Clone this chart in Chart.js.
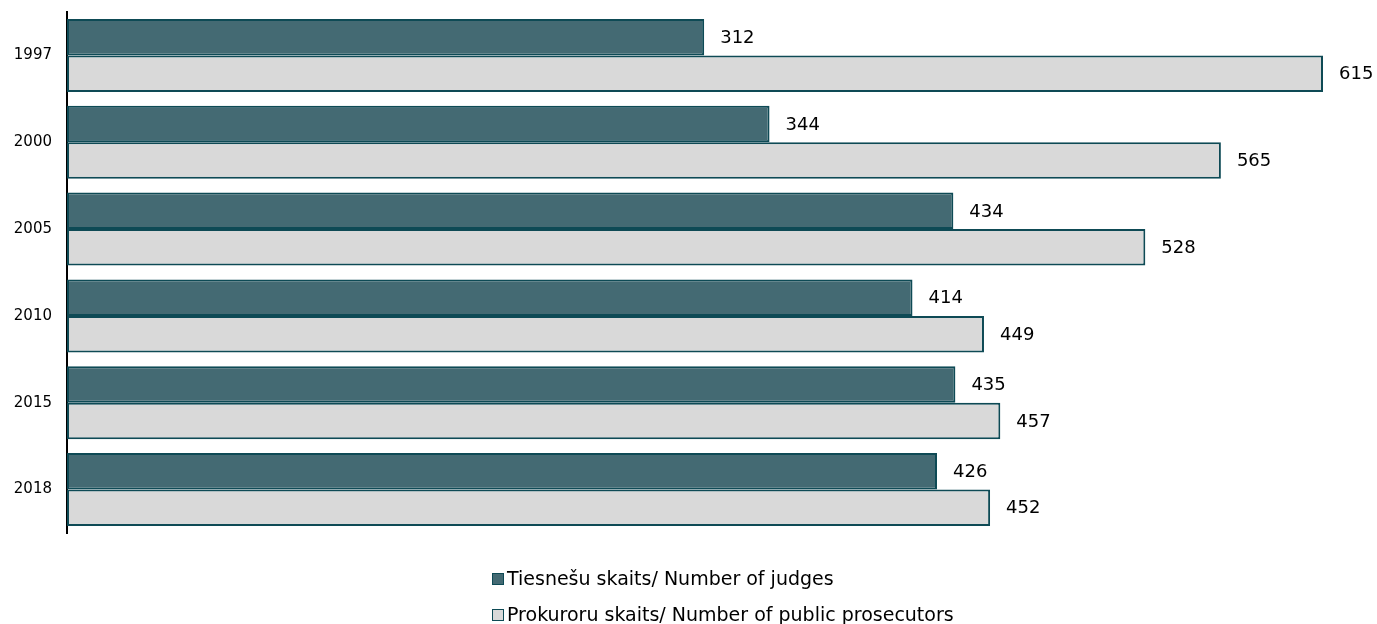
<!DOCTYPE html>
<html>
<head>
<meta charset="utf-8">
<script src="https://cdn.jsdelivr.net/npm/chart.js@4/dist/chart.umd.min.js"></script>
<style>
  html, body { margin: 0; padding: 0; background: #fff; }
  #wrap { position: relative; width: 1377px; height: 624px; }
  #legend { position: absolute; left: 492px; top: 565px; font-family: "DejaVu Sans", Verdana, sans-serif; font-size: 19px; color: #000; }
  .item { height: 36px; line-height: 26px; white-space: nowrap; }
  .box { display: inline-block; width: 10px; height: 10px; border: 1px solid #0e4a55; margin-right: 3px; vertical-align: 0px; }
</style>
</head>
<body>
<div id="wrap">
  <canvas id="chart" width="1377" height="624"></canvas>
  <div id="legend"></div>
</div>
<script>
// dati
const gadi = ['1997', '2000', '2005', '2010', '2015', '2018'];
const tiesnesi = [312, 344, 434, 414, 435, 426];
const prokurori = [615, 565, 528, 449, 457, 452];
const nosaukumi = ['Tiesnešu skaits/ Number of judges', 'Prokuroru skaits/ Number of public prosecutors'];

const KRASA_TIES = '#446a73';
const KRASA_PROK = '#d9d9d9';
const MALA = '#0e4a55';
const FONTS = '"DejaVu Sans", Verdana, sans-serif';

// vērtības pie stabiņu galiem
const labelsPlugin = {
  id: 'vertibas',
  afterDatasetsDraw(chart){
    const c = chart.ctx;
    c.save();
    c.font = '18px ' + FONTS;
    c.fillStyle = '#000';
    c.textAlign = 'left';
    c.textBaseline = 'middle';
    chart.data.datasets.forEach((ds, i) => {
      chart.getDatasetMeta(i).data.forEach((bar, j) => {
        c.fillText(String(ds.data[j]), bar.x + 16, bar.y + 1);
      });
    });
    c.restore();
  }
};

const ctx = document.getElementById('chart').getContext('2d');
const chart = new Chart(ctx, {
  type: 'bar',
  data: {
    labels: gadi,
    datasets: [
      { label: nosaukumi[0], data: tiesnesi, backgroundColor: KRASA_TIES, borderColor: MALA, borderWidth: 2, borderSkipped: false },
      { label: nosaukumi[1], data: prokurori, backgroundColor: KRASA_PROK, borderColor: MALA, borderWidth: 2, borderSkipped: false }
    ]
  },
  options: {
    indexAxis: 'y',
    responsive: false,
    animation: false,
    layout: { padding: { top: 12, bottom: 91, right: 54, left: 0 } },
    datasets: { bar: { categoryPercentage: 0.84, barPercentage: 1.0 } },
    scales: {
      x: { display: false, min: 0, max: 615 },
      y: {
        grid: { display: false, drawTicks: true, tickLength: 12 },
        border: { display: true, color: '#000', width: 2 },
        ticks: { color: '#000', padding: 3, font: { family: FONTS, size: 15 } },
        afterFit(scale){ scale.width = 67; }
      }
    },
    plugins: { legend: { display: false }, tooltip: { enabled: false } }
  },
  plugins: [labelsPlugin]
});

// leģenda zem grafika
const leg = document.getElementById('legend');
chart.data.datasets.forEach(ds => {
  const row = document.createElement('div');
  row.className = 'item';
  const box = document.createElement('span');
  box.className = 'box';
  box.style.background = ds.backgroundColor;
  row.appendChild(box);
  row.appendChild(document.createTextNode(ds.label));
  leg.appendChild(row);
});
</script>
</body>
</html>
